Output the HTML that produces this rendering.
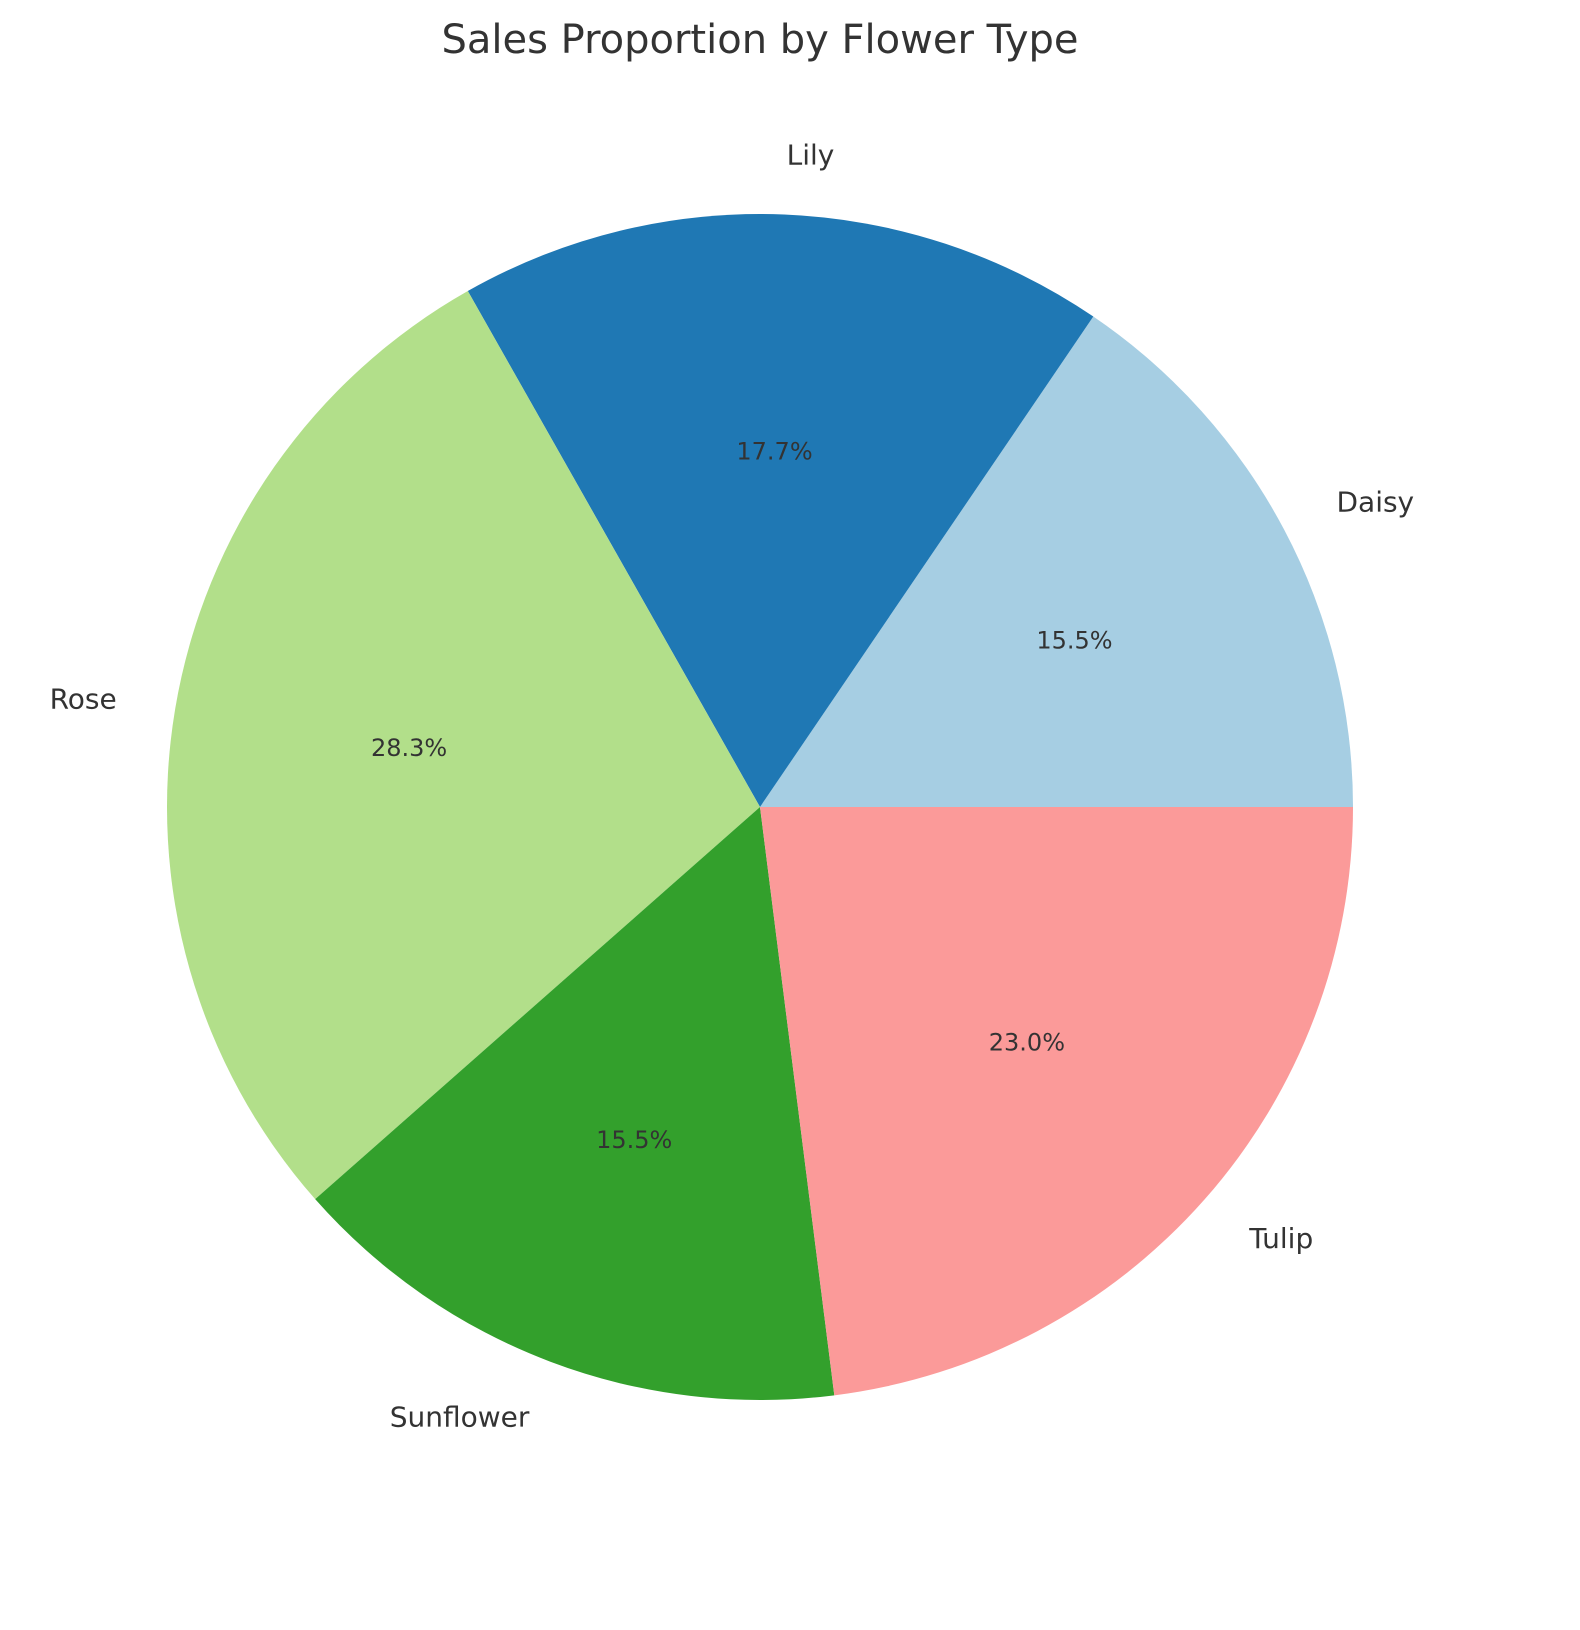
<!DOCTYPE html>
<html><head><meta charset="utf-8"><style>
body{margin:0;background:#fff;}
svg{display:block;font-family:"DejaVu Sans","Liberation Sans",sans-serif;}
</style></head><body>
<svg id="chart" width="1580" height="1630" viewBox="0 0 1580 1630">
<text x="760" y="40" text-anchor="middle" dominant-baseline="central" font-size="40" fill="#333">Sales Proportion by Flower Type</text>
<g id="slices"></g>
</svg>
<script>
const categories = ["Daisy","Lily","Rose","Sunflower","Tulip"];
const values = [15.5,17.7,28.3,15.5,23.0];
const colors = ["#a6cee3","#1f78b4","#b2df8a","#33a02c","#fb9a99"];
const cx=760, cy=807, R=593;
const g=document.getElementById('slices');
const NS='http://www.w3.org/2000/svg';
const total=values.reduce((a,b)=>a+b,0);
let a0=0;
function pt(a,r){return [cx+r*Math.cos(a*Math.PI/180), cy-r*Math.sin(a*Math.PI/180)];}
values.forEach((v,i)=>{
  const a1=a0+v/total*360;
  const p0=pt(a0,R), p1=pt(a1,R);
  const large=(a1-a0)>180?1:0;
  const path=document.createElementNS(NS,'path');
  path.setAttribute('d',`M${cx},${cy} L${p0[0]},${p0[1]} A${R},${R} 0 ${large} 0 ${p1[0]},${p1[1]} Z`);
  path.setAttribute('fill',colors[i]);
  
  
  g.appendChild(path);
  const mid=(a0+a1)/2;
  const lp=pt(mid,R*1.1);
  const lab=document.createElementNS(NS,'text');
  lab.setAttribute('x',lp[0]);lab.setAttribute('y',lp[1]);
  lab.setAttribute('text-anchor',Math.cos(mid*Math.PI/180)>=0?'start':'end');
  lab.setAttribute('dominant-baseline','central');
  lab.setAttribute('font-size','28');lab.setAttribute('fill','#333');
  lab.textContent=categories[i];
  
  
  g.appendChild(lab);
  const pp=pt(mid,R*0.6);
  const pc=document.createElementNS(NS,'text');
  pc.setAttribute('x',pp[0]);pc.setAttribute('y',pp[1]);
  pc.setAttribute('text-anchor','middle');
  pc.setAttribute('dominant-baseline','central');
  pc.setAttribute('font-size','24');pc.setAttribute('fill','#333');
  pc.textContent=(v/total*100).toFixed(1)+'%';
  
  
  g.appendChild(pc);
  a0=a1;
});
</script>
</body></html>
